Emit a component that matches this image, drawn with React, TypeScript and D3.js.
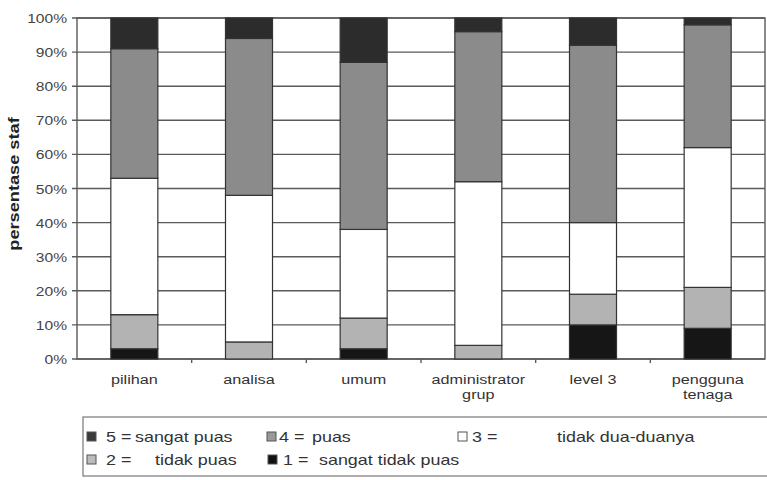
import React, { useEffect, useRef } from "react";
import * as d3 from "d3";

// categories on the x axis (second line after "\n")
const categories = [
  "pilihan",
  "analisa",
  "umum",
  "administrator\ngrup",
  "level 3",
  "pengguna\ntenaga",
];

// percentage of staff per satisfaction score
const score1 = [3, 0, 3, 0, 10, 9];
const score2 = [10, 5, 9, 4, 9, 12];
const score3 = [40, 43, 26, 48, 21, 41];
const score4 = [38, 46, 49, 44, 52, 36];
const score5 = [9, 6, 13, 4, 8, 2];

const yTicks = [0, 10, 20, 30, 40, 50, 60, 70, 80, 90, 100];

const seriesKeys = ["s1", "s2", "s3", "s4", "s5"];
const seriesFill = ["#161616", "#b3b3b3", "#ffffff", "#8b8b8b", "#2c2c2c"];

const legendItems = [
  { key: "5 =", label: "sangat puas", fill: "#3a3a3a" },
  { key: "4 =", label: "puas", fill: "#999999" },
  { key: "3 =", label: "tidak dua-duanya", fill: "#ffffff" },
  { key: "2 =", label: "tidak puas", fill: "#bcbcbc" },
  { key: "1 =", label: "sangat tidak puas", fill: "#111111" },
];

const App = () => {
  const svgRef = useRef<SVGSVGElement>(null);

  useEffect(() => {
    const w = 767;
    const h = 480;
    const svg = d3.select(svgRef.current).attr("width", w).attr("height", h);
    svg.selectAll("*").remove();

    const font = "Liberation Sans, Arial, sans-serif";
    const stretch = 1.2;
    const left = 77;
    const right = 765;
    const top = 18;
    const bottom = 359;

    const rows = categories.map((c, i) => ({
      cat: c,
      s1: score1[i],
      s2: score2[i],
      s3: score3[i],
      s4: score4[i],
      s5: score5[i],
    }));

    const x = d3
      .scaleBand()
      .domain(categories)
      .range([left, right])
      .paddingInner(0.59)
      .paddingOuter(0.295);
    const y = d3.scaleLinear().domain([0, 100]).range([bottom, top]);

    // gridlines + left ticks
    svg
      .append("g")
      .selectAll("line")
      .data(yTicks)
      .join("line")
      .attr("x1", left - 5)
      .attr("x2", right)
      .attr("y1", (d) => y(d))
      .attr("y2", (d) => y(d))
      .attr("stroke", "#5a5a5a")
      .attr("stroke-width", 1.4);

    // plot frame
    svg
      .append("rect")
      .attr("x", left)
      .attr("y", top)
      .attr("width", right - left)
      .attr("height", bottom - top)
      .attr("fill", "none")
      .attr("stroke", "#5a5a5a")
      .attr("stroke-width", 1.4);

    // y tick labels
    svg
      .append("g")
      .selectAll("text")
      .data(yTicks)
      .join("text")
      .attr("transform", (d) => `translate(67,${y(d) + 5}) scale(${stretch},1)`)
      .attr("text-anchor", "end")
      .attr("font-family", font)
      .attr("font-size", 13)
      .attr("fill", "#444")
      .text((d) => `${d}%`);

    // y axis title
    svg
      .append("text")
      .attr("transform", `translate(19,184) rotate(-90) scale(1.3,1)`)
      .attr("text-anchor", "middle")
      .attr("font-family", font)
      .attr("font-size", 14)
      .attr("font-weight", "bold")
      .attr("fill", "#222")
      .text("persentase staf");

    // stacked bars
    const stacked = d3.stack<any>().keys(seriesKeys)(rows);
    svg
      .append("g")
      .selectAll("g")
      .data(stacked)
      .join("g")
      .attr("fill", (d, i) => seriesFill[i])
      .selectAll("rect")
      .data((d) => d.filter((p) => p[1] - p[0] > 0))
      .join("rect")
      .attr("x", (d) => x(d.data.cat)!)
      .attr("width", x.bandwidth())
      .attr("y", (d) => y(d[1]))
      .attr("height", (d) => y(d[0]) - y(d[1]))
      .attr("stroke", "#333")
      .attr("stroke-width", 1.2);

    // x axis ticks between categories
    const step = x.step();
    svg
      .append("g")
      .selectAll("line")
      .data(categories.slice(1))
      .join("line")
      .attr("x1", (d) => x(d)! - (step - x.bandwidth()) / 2)
      .attr("x2", (d) => x(d)! - (step - x.bandwidth()) / 2)
      .attr("y1", bottom)
      .attr("y2", bottom + 4)
      .attr("stroke", "#5a5a5a")
      .attr("stroke-width", 1.4);

    // x labels
    const xl = svg
      .append("g")
      .selectAll("text")
      .data(categories)
      .join("text")
      .attr("font-family", font)
      .attr("font-size", 13.5)
      .attr("fill", "#333")
      .attr("text-anchor", "middle");
    xl.each(function (d) {
      const cx = x(d)! + x.bandwidth() / 2;
      d3.select(this)
        .selectAll("tspan")
        .data(d.split("\n"))
        .join("tspan")
        .attr("x", 0)
        .attr("y", (_, i) => i * 15)
        .text((t) => t);
      d3.select(this).attr("transform", `translate(${cx},384) scale(${stretch},1)`);
    });

    // legend box
    svg
      .append("rect")
      .attr("x", 83)
      .attr("y", 417)
      .attr("width", 700)
      .attr("height", 59)
      .attr("fill", "none")
      .attr("stroke", "#777")
      .attr("stroke-width", 1.2);

    const legendPos = [
      { sx: 87, kx: 106, lx: 135, y: 442 },
      { sx: 267, kx: 279, lx: 312, y: 442 },
      { sx: 458, kx: 472, lx: 557, y: 442 },
      { sx: 87, kx: 106, lx: 155, y: 465 },
      { sx: 268, kx: 283, lx: 319, y: 465 },
    ];
    const lg = svg
      .append("g")
      .selectAll("g")
      .data(legendItems)
      .join("g");
    lg.append("rect")
      .attr("x", (d, i) => legendPos[i].sx)
      .attr("y", (d, i) => legendPos[i].y - 10)
      .attr("width", 9)
      .attr("height", 9)
      .attr("fill", (d) => d.fill)
      .attr("stroke", "#555")
      .attr("stroke-width", 1);
    lg.append("text")
      .attr("transform", (d, i) => `translate(${legendPos[i].kx},${legendPos[i].y}) scale(1.28,1)`)
      .attr("font-family", font)
      .attr("font-size", 14)
      .attr("fill", "#333")
      .text((d) => d.key);
    lg.append("text")
      .attr("transform", (d, i) => `translate(${legendPos[i].lx},${legendPos[i].y}) scale(1.28,1)`)
      .attr("font-family", font)
      .attr("font-size", 14)
      .attr("fill", "#333")
      .text((d) => d.label);
  }, []);

  return (
    <div>
      <svg ref={svgRef} style={{ position: "absolute", left: 0, top: 0, background: "#fff" }}></svg>
    </div>
  );
};

export default App;
